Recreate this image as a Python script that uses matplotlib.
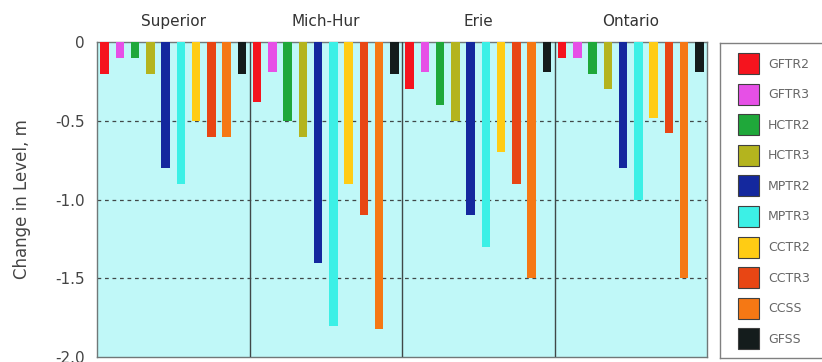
import numpy as np
import matplotlib
matplotlib.use("Agg")
import matplotlib.pyplot as plt
import matplotlib.patches as mpatches

plt.rcParams["font.family"] = ["DejaVu Sans"]

lakes = ["Superior", "Mich-Hur", "Erie", "Ontario"]
scenarios = ["GFTR2", "GFTR3", "HCTR2", "HCTR3", "MPTR2",
             "MPTR3", "CCTR2", "CCTR3", "CCSS", "GFSS"]
colors = ["#f5141e", "#e650e6", "#1fa83a", "#b4b41e", "#14289e",
          "#3cf0e6", "#ffcc14", "#e84614", "#f57814", "#141c1c"]

superior = [-0.2, -0.1, -0.1, -0.2, -0.8, -0.9, -0.5, -0.6, -0.6, -0.2]
mich_hur = [-0.38, -0.19, -0.5, -0.6, -1.4, -1.8, -0.9, -1.1, -1.82, -0.2]
erie = [-0.3, -0.19, -0.4, -0.5, -1.1, -1.3, -0.7, -0.9, -1.5, -0.19]
ontario = [-0.1, -0.1, -0.2, -0.3, -0.8, -1.0, -0.48, -0.58, -1.5, -0.19]
values = [superior, mich_hur, erie, ontario]

yticks = [0, -0.5, -1.0, -1.5, -2.0]
ytick_labels = ["0", "-0.5", "-1.0", "-1.5", "-2.0"]

fig = plt.figure(figsize=(8.22, 3.62), dpi=100)
ax = fig.add_axes([97/822, 5/362, 610/822, 315/362])
ax.set_facecolor("#c0f8f8")

n = len(scenarios)
for g, vals in enumerate(values):
    x = g * n + np.arange(n)
    ax.bar(x, vals, width=0.55, color=colors, zorder=3)

for b in range(1, len(lakes)):
    ax.axvline(b * n - 0.5, color="#404848", lw=1.0, zorder=4)
for yv in [-0.5, -1.0, -1.5]:
    ax.axhline(yv, color="#404848", lw=0.9, ls=(0, (3, 3)), zorder=2)

ax.set_xlim(-0.5, len(lakes) * n - 0.5)
ax.set_ylim(-2.0, 0)
ax.set_xticks([])
ax.set_yticks(yticks)
ax.set_yticklabels(ytick_labels, fontsize=11, color="#444444")
ax.tick_params(axis="y", length=0, pad=9)
for s in ax.spines.values():
    s.set_color("#707878")
    s.set_linewidth(1.0)

for g, lake in enumerate(lakes):
    ax.text(g * n + (n - 1) / 2, 0.08, lake, ha="center", va="bottom",
            fontsize=11, color="#333333")

fig.text(22/822, 0.45, "Change in Level, m", rotation=90, ha="center",
         va="center", fontsize=12, color="#444444")

# legend box, drawn in its own axes (runs off the right edge like the original)
lax = fig.add_axes([720/822, 4/362, 120/822, 315/362])
lax.set_xlim(0, 120)
lax.set_ylim(315, 0)
lax.set_xticks([])
lax.set_yticks([])
for s in lax.spines.values():
    s.set_color("#808080")
    s.set_linewidth(1.0)
for i, (c, lab) in enumerate(zip(colors, scenarios)):
    top = 10 + i * 30.6
    lax.add_patch(mpatches.Rectangle((18, top), 21, 21, facecolor=c,
                                     edgecolor="#404040", lw=0.8))
    lax.text(48, top + 11, lab, ha="left", va="center", fontsize=9,
             color="#666666")

fig.savefig("out.png", dpi=100)
